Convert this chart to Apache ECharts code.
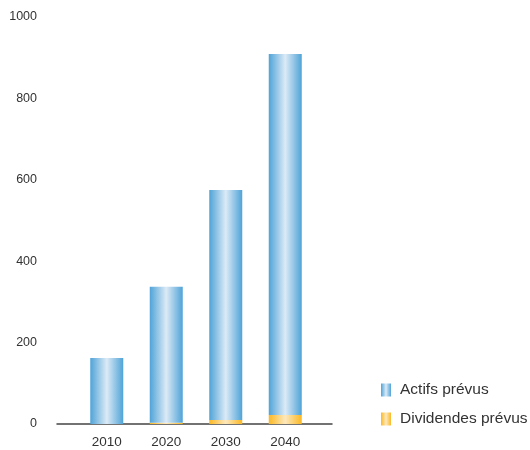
<!DOCTYPE html>
<html><head><meta charset="utf-8">
<script src="https://cdn.jsdelivr.net/npm/echarts@6/dist/echarts.min.js"></script>
<style>html,body{margin:0;padding:0;background:#fff}#c{width:530px;height:450px}</style>
</head><body><div id="c"></div>
<script>
var categories = ['2010', '2020', '2030', '2040'];
var actifs = [162, 334, 565, 887];
var dividendes = [0, 3, 10, 22];
var yTicks = [0, 200, 400, 600, 800, 1000];

function grad(edge, mid) {
  return new echarts.graphic.LinearGradient(0, 0, 1, 0, [
    {offset: 0, color: edge}, {offset: 0.5, color: mid}, {offset: 1, color: edge}
  ]);
}
var blue = grad('#4fa3d8', '#dceaf6');
var yellow = grad('#fbb823', '#fde8bd');
var font = 'Liberation Sans, Arial, sans-serif';

var chart = echarts.init(document.getElementById('c'));
chart.setOption({
  animation: false,
  grid: [
    {left: 77, right: 215, top: 17, bottom: 26},
    {left: 57, right: 198, top: 17, bottom: 26}
  ],
  legend: {
    orient: 'vertical', left: 381, top: 382, padding: 0,
    icon: 'rect',
    itemWidth: 10, itemHeight: 13, itemGap: 13,
    textStyle: {fontSize: 15.5, color: '#333', fontFamily: font, padding: [0, 0, 0, 4]},
    data: [{name: 'Actifs prévus', itemStyle: {color: blue}},
           {name: 'Dividendes prévus', itemStyle: {color: yellow}}]
  },
  xAxis: [
    {type: 'category', data: categories, gridIndex: 0,
     axisLine: {show: false}, axisTick: {show: false},
     axisLabel: {fontSize: 13.5, color: '#333', margin: 11, fontFamily: font}},
    {type: 'category', data: categories, gridIndex: 1,
     axisLine: {show: true, lineStyle: {color: '#444', width: 1.5}},
     axisTick: {show: false}, axisLabel: {show: false}}
  ],
  yAxis: [
    {type: 'value', min: 0, max: 1000, interval: 200, gridIndex: 0,
     axisLine: {show: false}, axisTick: {show: false}, splitLine: {show: false},
     axisLabel: {show: false}},
    {type: 'value', min: 0, max: 1000, interval: 200, gridIndex: 1,
     axisLine: {show: false}, axisTick: {show: false}, splitLine: {show: false},
     axisLabel: {fontSize: 12.5, color: '#333', margin: 20, fontFamily: font,
       formatter: function (v) { return yTicks.indexOf(v) >= 0 ? String(v) : ''; }}}
  ],
  series: [
    {name: 'Dividendes prévus', type: 'bar', stack: 's', barWidth: 33,
     xAxisIndex: 0, yAxisIndex: 0, data: dividendes, itemStyle: {color: yellow}},
    {name: 'Actifs prévus', type: 'bar', stack: 's', barWidth: 33,
     xAxisIndex: 0, yAxisIndex: 0, data: actifs, itemStyle: {color: blue}}
  ]
});
</script></body></html>
